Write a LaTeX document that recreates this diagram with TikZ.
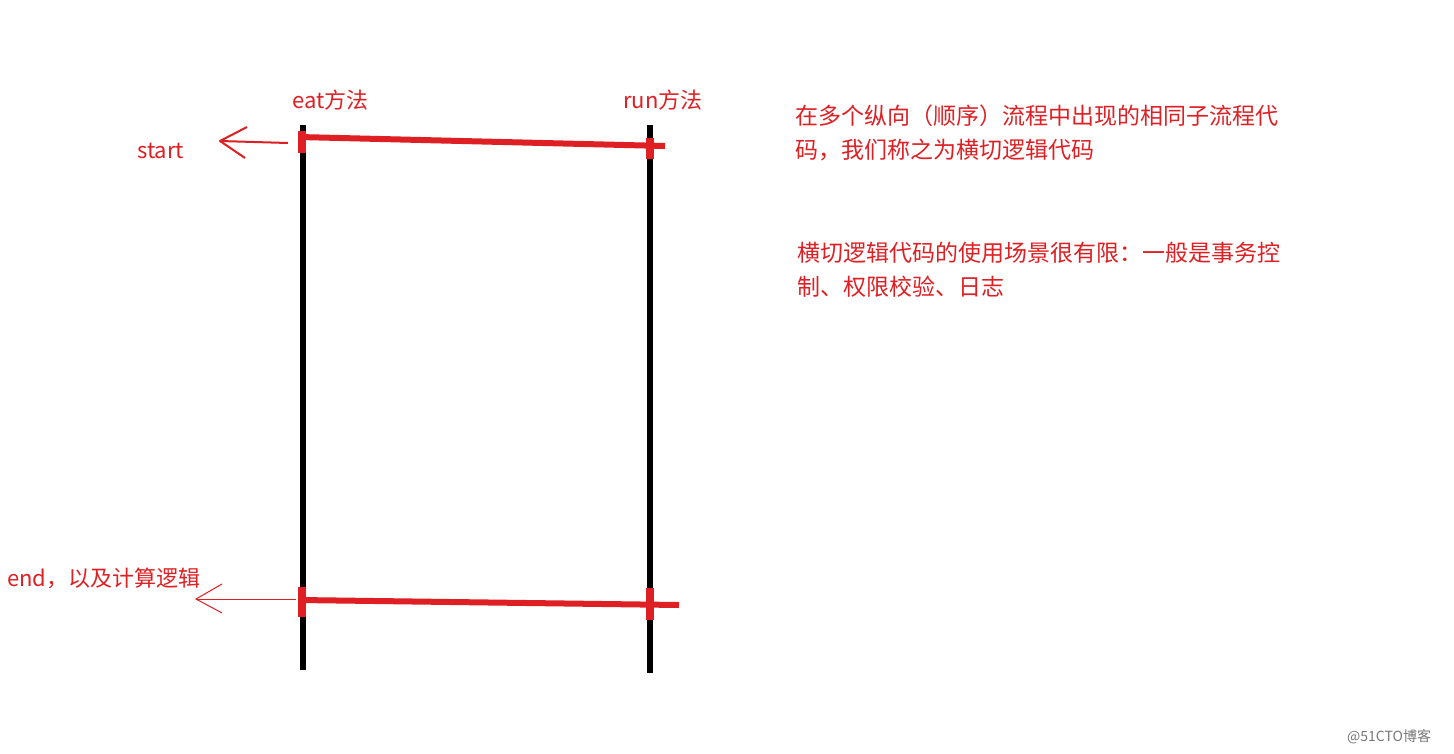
\documentclass[tikz,border=0pt]{standalone}
\usepackage{fontspec}
\setmainfont{Noto Sans CJK SC}
\definecolor{myred}{RGB}{222,32,36}
\definecolor{wm}{RGB}{120,120,120}
\tikzset{
  lbl/.style={text=myred, font=\fontsize{22}{26}\selectfont, inner sep=0pt, anchor=west},
  para/.style={text=myred, font=\fontsize{23}{33.5}\selectfont, inner sep=0pt, anchor=north west, align=left},
  blackline/.style={line width=6pt, black},
  redline/.style={line width=6pt, myred},
  redblock/.style={line width=8pt, myred},
  arr/.style={myred, line width=2pt},
  thinarr/.style={myred, line width=1pt},
}
\begin{document}
\begin{tikzpicture}[x=1pt,y=-1pt]
\useasboundingbox[fill=white] (0,0) rectangle (1454,753);
% vertical black lines
\coordinate (eTop) at (303,125);
\coordinate (eBot) at (303,670);
\coordinate (rTop) at (650,125);
\coordinate (rBot) at (650,673);
\draw[blackline] (eTop) -- (eBot);
\draw[blackline] (rTop) -- (rBot);
% top red line
\coordinate (t1) at (299,137);
\coordinate (t2) at (665,146);
\draw[redline] (t1) -- (t2);
\coordinate (tb1a) at (302,131); \coordinate (tb1b) at (302,153);
\draw[redblock] (tb1a) -- (tb1b);
\coordinate (tb2a) at (650,138); \coordinate (tb2b) at (650,159);
\draw[redblock] (tb2a) -- (tb2b);
% bottom red line
\coordinate (b1) at (299,600);
\coordinate (b2) at (679,605);
\draw[redline] (b1) -- (b2);
\coordinate (bb1a) at (302,587); \coordinate (bb1b) at (302,617);
\draw[redblock] (bb1a) -- (bb1b);
\coordinate (bb2a) at (650,588); \coordinate (bb2b) at (650,620);
\draw[redblock] (bb2a) -- (bb2b);
% start arrow
\coordinate (sa0) at (288,143);
\coordinate (sa1) at (220,141);
\coordinate (sh1) at (247,127);
\coordinate (sh2) at (245,158);
\draw[arr] (sa0) -- (sa1);
\draw[arr, line join=round] (sh1) -- (sa1) -- (sh2);
% end arrow
\coordinate (ea0) at (296,599);
\coordinate (ea1) at (196,599);
\coordinate (eh1) at (222,584);
\coordinate (eh2) at (222,613);
\draw[thinarr] (ea0) -- (ea1);
\draw[thinarr] (eh1) -- (ea1) -- (eh2);
% labels
\node[lbl] (eat) at (292,100) {eat方法};
\node[lbl] (run) at (623,100) {run方法};
\node[lbl] (start) at (137,151) {start};
\node[lbl] (endl) at (7,578) {end，以及计算逻辑};
\node[para] (p1) at (795,105) {在多个纵向（顺序）流程中出现的相同子流程代\\码，我们称之为横切逻辑代码};
\node[para] (p2) at (797,242) {横切逻辑代码的使用场景很有限：一般是事务控\\制、权限校验、日志};
\node[text=wm, font=\fontsize{14}{16}\selectfont, inner sep=0pt, anchor=west] (wmk) at (1347,737) {@51CTO博客};
\end{tikzpicture}
\end{document}
